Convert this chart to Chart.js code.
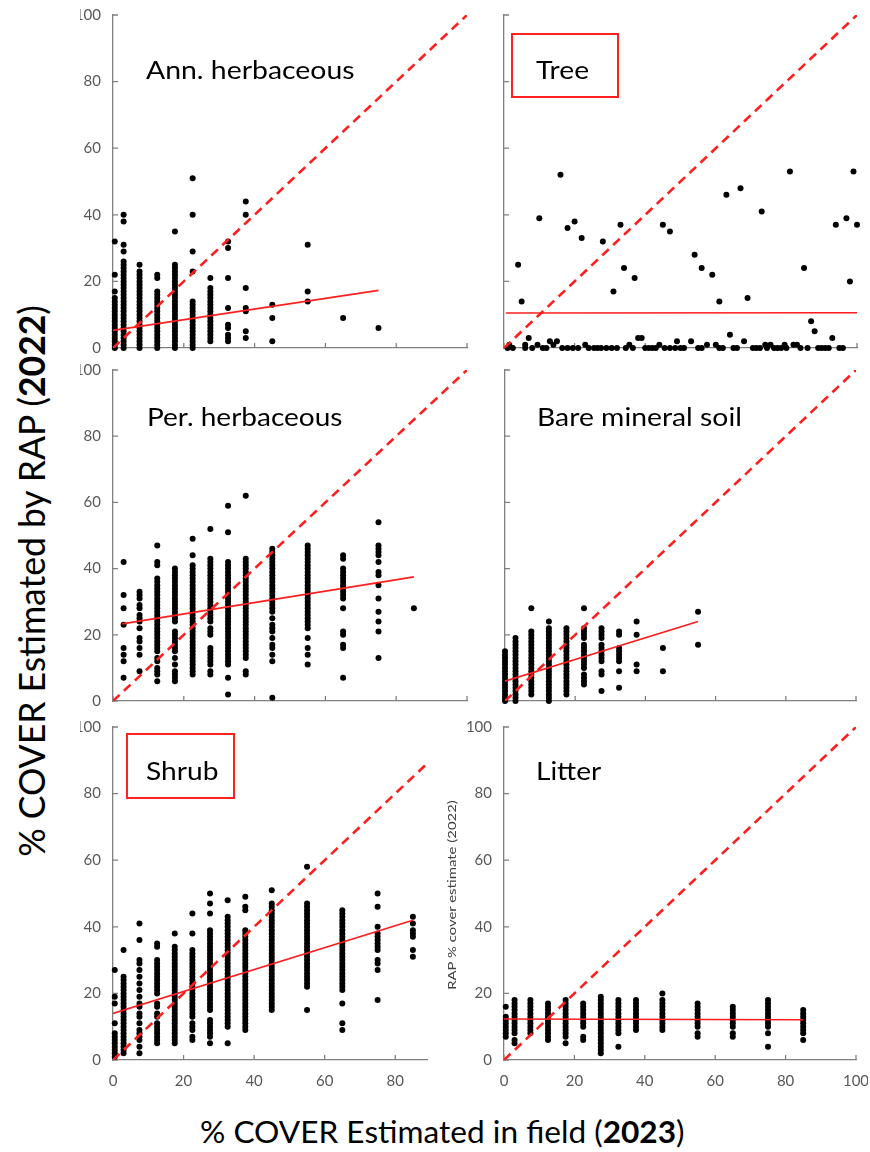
<!DOCTYPE html>
<html>
<head>
<meta charset="utf-8">
<script src="https://cdn.jsdelivr.net/npm/chart.js@4.4.1/dist/chart.umd.min.js"></script>
<style>
  body { margin: 0; width: 870px; height: 1152px; background: #fff; position: relative; overflow: hidden; font-family: Lato, sans-serif; }
  canvas { position: absolute; }
  .t { position: absolute; white-space: nowrap; line-height: 1; color: #000; transform-origin: 0 0; }
  .rot { transform-origin: 50% 50%; }
  .box { position: absolute; border: 2px solid #ff2020; box-sizing: border-box; }
</style>
</head>
<body>
<canvas id="ann"></canvas>
<canvas id="tree"></canvas>
<canvas id="per"></canvas>
<canvas id="bare"></canvas>
<canvas id="shrub"></canvas>
<canvas id="litter"></canvas>

<div class="box" style="left:511px;top:33px;width:108px;height:65px"></div>
<div class="box" style="left:126px;top:733px;width:109px;height:66px"></div>

<div class="t fit" data-w="209" style="left:146px;top:57px;font-size:25px">Ann. herbaceous</div>
<div class="t fit" data-w="53" style="left:536px;top:57px;font-size:25px">Tree</div>
<div class="t fit" data-w="196" style="left:147px;top:404px;font-size:25px">Per. herbaceous</div>
<div class="t fit" data-w="205" style="left:537px;top:404px;font-size:25px">Bare mineral soil</div>
<div class="t fit" data-w="72" style="left:146px;top:758px;font-size:25px">Shrub</div>
<div class="t fit" data-w="65" style="left:536px;top:758px;font-size:25px">Litter</div>

<div class="t fit" data-w="485" style="left:200px;top:1116px;font-size:30px">% COVER Estimated in field (<b>2023</b>)</div>
<div class="t fit rot" data-w="552" data-rot="1" style="left:31px;top:581px;font-size:36px">% COVER Estimated by RAP (<b>2022</b>)</div>
<div class="t fit rot" data-w="190" data-rot="1" style="left:452px;top:895px;font-size:12px;color:#404040">RAP % cover estimate (2022)</div>

<script>
// cover classes (field estimate, %) and RAP values read per column
const annX = [0.5, 3, 7.5, 12.5, 17.5, 22.5, 27.5, 32.5, 37.5, 45, 55, 65, 75];
const annY = [
  [0,1,2,3,4,5,6,7,8,9,10,11,12,13,14,15,17,22,32],
  [0,1,2,3,4,5,6,7,8,9,10,11,12,13,14,15,16,17,18,19,20,21,22,23,24,25,26,29,31,38,40],
  [0,1,2,3,4,5,6,7,8,9,10,11,12,13,14,15,16,17,18,19,20,21,22,23,25],
  [0,1,2,3,4,5,6,7,8,9,10,11,12,13,14,15,16,17,21,22],
  [0,1,2,3,4,5,6,7,8,9,10,11,12,13,14,15,16,17,18,19,20,21,22,23,24,25,35],
  [0,1,2,3,4,5,6,7,8,9,10,11,12,13,14,23,29,40,51],
  [2,3,4,5,6,7,8,9,10,11,12,13,14,15,16,17,18,21],
  [2,3,4,6,7,12,21,30,32],
  [3,5,11,12,18,40,44],
  [2,9,13],
  [14,17,31],
  [9],
  [6]
];
const annFitX = [0, 75];
const annFitY = [5.3, 17.3];

const treeXY = [
  [4,25],[5,14],[10,39],[16,52],[18,36],[20,38],[22,33],[28,32],[31,17],[33,37],[34,24],[37,21],
  [45,37],[47,35],[54,28],[56,24],[59,22],[61,14],[63,46],[64,4],[67,48],[69,15],[73,41],[81,53],
  [85,24],[87,8],[88,5],[94,37],[97,39],[98,20],[99,53],[100,37],
  [6,1],[7,3],[13,2],[15,2],[38,3],[39,3],[49,2],[53,2],[60,1],[68,2],[74,1],[82,1],[93,3],
  [1,0],[1.5,1],[2.5,0],[6,0],[8,0],[9.5,1],[11,0],[12,0],[14,1],[16.5,0],[18,0],[19.5,0],[21,0],
  [23,1],[24,0],[25.5,0],[26.5,0],[27.5,0],[29,0],[30.5,0],[32,0],[34.5,0],[35.5,1],[36.5,0],
  [40,0],[41,0],[42,0],[43,0],[44,1],[45.5,0],[47,0],[48.5,0],[50,0],[51,0],[55,0],[56,0],
  [57.5,1],[61,0],[62,0],[65,0],[66,0],[70.5,0],[71.5,0],[72.5,0],[74.5,0],[75.5,1],[76.5,0],
  [77.5,0],[78.5,0],[79.5,1],[80,0],[83,1],[84,0],[86,0],[89,0],[90,0],[91,0],[92,0],[95,0],[96,0]
];
const treeFitX = [0.5, 100];
const treeFitY = [10.5, 10.6];

const perX = [3, 7.5, 12.5, 17.5, 22.5, 27.5, 32.5, 37.5, 45, 55, 65, 75, 85];
const perY = [
  [7,12,14,16,23,28,32,42],
  [9,14,16,18,19,22,24,25,26,28,29,31,32,33],
  [6,8,9,10,12,13,15,16,17,18,19,20,21,22,23,24,25,26,27,28,29,30,31,32,33,34,35,36,37,41,42,47],
  [6,7,8,9,11,13,15,16,17,18,19,20,21,24,25,26,27,28,29,30,31,32,33,34,35,36,37,38,39,40],
  [8,9,10,11,12,13,14,15,16,17,18,19,20,21,22,23,24,25,26,27,28,29,30,31,32,33,34,35,36,37,38,39,40,41,44,49],
  [8,9,11,12,13,14,15,16,20,21,22,24,25,26,27,28,29,30,31,32,33,34,35,36,37,38,39,40,41,42,43,52],
  [2,7,11,12,13,14,15,16,17,18,19,20,21,22,23,24,25,26,27,28,29,30,31,32,33,34,35,36,37,38,39,40,41,42,51,59],
  [8,9,13,14,15,16,17,18,19,20,21,22,23,24,25,26,27,28,29,30,31,32,33,34,35,36,37,38,39,40,41,42,43,62],
  [1,12,14,16,17,19,21,22,23,25,27,28,29,30,31,32,33,34,35,36,37,38,39,40,41,42,43,44,45,46],
  [11,14,16,19,22,23,24,25,26,27,28,29,30,31,32,33,34,35,36,37,38,39,40,41,42,43,44,45,46,47],
  [7,16,17,20,21,28,31,32,33,34,35,36,37,38,39,40,43,44],
  [13,21,24,27,31,35,38,39,42,44,45,46,47,54],
  [28]
];
const perFitX = [2.6, 85];
const perFitY = [23.3, 37.5];

const bareX = [0, 3, 7.5, 12.5, 17.5, 22.5, 27.5, 32.5, 37.5, 45, 55];
const bareY = [
  [0,1,2,3,4,5,6,7,8,9,10,11,12,13,14,15],
  [0,1,2,3,4,5,6,7,8,9,10,11,12,13,14,15,16,17,18,19],
  [2,3,4,5,6,7,8,9,10,11,12,13,14,15,16,17,18,19,20,21,28],
  [0,1,2,3,4,5,6,7,8,9,10,11,12,13,14,15,16,17,18,19,20,21,22,24],
  [2,3,4,5,6,7,8,9,10,11,12,13,14,15,16,17,18,19,20,21,22],
  [5,6,7,8,10,11,12,13,14,15,16,17,19,20,21,22,28],
  [3,8,9,12,13,14,15,16,17,19,20,21,22],
  [4,9,12,13,14,15,16,20,21],
  [9,11,20,24],
  [9,16],
  [17,27]
];
const bareFitX = [0, 55];
const bareFitY = [6, 24];

const shrubX = [0.5, 3, 7.5, 12.5, 17.5, 22.5, 27.5, 32.5, 37.5, 45, 55, 65, 75, 85];
const shrubY = [
  [1,2,3,4,5,6,7,8,11,17,19,27],
  [2,3,4,5,6,7,8,9,10,11,12,13,14,15,16,17,18,19,20,21,22,23,24,25,33],
  [2,4,6,7,8,9,11,13,14,16,17,19,21,23,25,27,29,30,36,41],
  [5,6,7,8,9,10,11,13,14,16,17,20,21,22,23,24,25,26,27,28,29,30,34,35],
  [5,6,7,8,9,10,11,12,13,14,15,16,17,18,19,20,21,22,23,24,25,26,27,28,29,30,31,32,33,34,38],
  [6,7,9,10,11,13,14,15,16,17,18,19,20,21,22,23,24,25,26,27,28,29,30,31,32,33,38,44],
  [5,7,8,9,10,11,12,15,16,17,18,19,20,21,22,23,24,25,26,27,28,29,30,31,32,33,34,35,36,37,38,39,44,47,50],
  [5,10,11,12,13,14,15,16,17,18,19,20,21,22,23,24,25,26,27,28,29,30,31,32,33,34,35,36,37,38,39,40,41,42,43,48],
  [9,10,11,12,13,14,15,16,17,18,19,20,21,22,23,24,25,26,27,28,29,30,31,32,33,34,35,36,37,38,39,45,46,49],
  [15,16,17,18,19,20,21,22,23,24,25,26,27,28,29,30,31,32,33,34,35,36,37,38,39,40,41,42,43,44,45,46,47,51],
  [15,22,23,24,25,26,27,28,29,30,31,32,33,34,35,36,37,38,39,40,41,42,43,44,45,46,47,58],
  [9,11,17,21,22,23,24,25,26,27,28,29,30,31,32,33,34,35,36,37,38,39,40,41,42,43,44,45],
  [18,27,29,30,33,34,35,36,37,38,40,46,50],
  [31,33,37,38,39,41,43]
];
const shrubFitX = [0, 85];
const shrubFitY = [14, 42];

const litX = [0.5, 3, 7.5, 12.5, 17.5, 22.5, 27.5, 32.5, 37.5, 45, 55, 65, 75, 85];
const litY = [
  [7,8,9,10,11,12,13,16],
  [5,6,8,9,10,11,12,13,14,15,16,17,18],
  [8,9,10,11,12,13,14,15,16,17,18],
  [6,7,8,9,10,11,12,13,14,15,16,17],
  [5,7,8,9,10,11,12,13,14,15,16,17,18],
  [6,7,10,11,12,13,14,15,16,17],
  [2,3,4,5,6,7,8,9,10,11,12,13,14,15,16,17,18,19],
  [4,8,9,10,11,12,13,14,15,16,17,18],
  [9,10,11,12,13,14,15,16,17,18],
  [9,10,11,12,13,14,15,16,17,18,20],
  [7,8,10,11,12,13,14,15,16,17],
  [7,8,10,11,12,13,14,15,16],
  [4,8,10,11,12,13,14,15,16,17,18],
  [6,8,9,10,11,12,13,14,15]
];
const litFitX = [0, 85];
const litFitY = [12.3, 12.1];

const red = 'rgb(255,30,30)';
const axisGrey = '#808080';
const tickFont = { family: 'Lato', size: 15 };

function cols(xs, ys) {
  const out = [];
  xs.forEach((x, i) => ys[i].forEach(y => out.push({ x, y })));
  return out;
}

// short tick marks pointing into the plot
const inTicks = {
  id: 'inTicks',
  beforeDatasetsDraw(chart) {
    const { ctx, chartArea: a, scales: { x, y } } = chart;
    ctx.save();
    ctx.strokeStyle = axisGrey;
    ctx.lineWidth = 1.3;
    ctx.beginPath();
    x.ticks.forEach((t, i) => {
      const px = x.getPixelForTick(i);
      ctx.moveTo(px, a.bottom); ctx.lineTo(px, a.bottom - 5);
    });
    y.ticks.forEach((t, i) => {
      const py = y.getPixelForTick(i);
      ctx.moveTo(a.left, py); ctx.lineTo(a.left + 5, py);
    });
    ctx.stroke();
    ctx.restore();
  }
};

function panel(id, g, pts, fitX, fitY, xMax, showX, showY) {
  const cv = document.getElementById(id);
  cv.width = g.R - g.L + g.yW + 12;
  cv.height = g.B - g.T + 10 + 30;
  cv.style.left = (g.L - g.yW) + 'px';
  cv.style.top = (g.T - 10) + 'px';
  new Chart(cv, {
    type: 'scatter',
    data: {
      datasets: [
        { data: [{ x: 0, y: 0 }, { x: xMax, y: xMax }], showLine: true, borderColor: red,
          borderWidth: 2.6, borderDash: [9, 6], pointRadius: 0, order: 0 },
        { data: fitX.map((x, i) => ({ x, y: fitY[i] })), showLine: true, borderColor: red,
          borderWidth: 1.6, pointRadius: 0, order: 0 },
        { data: pts, pointRadius: 3, backgroundColor: '#000', borderWidth: 0, order: 1, clip: false }
      ]
    },
    options: {
      responsive: false,
      animation: false,
      devicePixelRatio: 1,
      layout: { padding: { top: 10, right: 12, left: 0, bottom: 0 } },
      plugins: { legend: { display: false }, tooltip: { enabled: false } },
      scales: {
        x: {
          type: 'linear', min: 0, max: xMax,
          grid: { display: false, drawTicks: false },
          border: { color: axisGrey, width: 1.3 },
          ticks: { display: showX, stepSize: 20, includeBounds: false, padding: 12, color: '#595959', font: tickFont },
          afterFit: s => { s.height = 30; s.paddingLeft = 0; s.paddingRight = 0; }
        },
        y: {
          type: 'linear', min: 0, max: 100,
          grid: { display: false, drawTicks: false },
          border: { color: axisGrey, width: 1.3 },
          ticks: { display: showY, stepSize: 20, padding: 12, color: '#595959', font: tickFont },
          afterFit: s => { s.width = g.yW; s.paddingTop = 0; s.paddingBottom = 0; }
        }
      }
    },
    plugins: [inTicks]
  });
}

panel('ann',    { L: 113, R: 467, T: 15,  B: 348,  yW: 33 }, cols(annX, annY),   annFitX,   annFitY,   100, false, true);
panel('tree',   { L: 504, R: 857, T: 15,  B: 348,  yW: 33 }, treeXY.map(p => ({ x: p[0], y: p[1] })), treeFitX, treeFitY, 100, false, false);
panel('per',    { L: 113, R: 467, T: 370, B: 701,  yW: 33 }, cols(perX, perY),   perFitX,   perFitY,   100, false, true);
panel('bare',   { L: 505, R: 856, T: 370, B: 701,  yW: 33 }, cols(bareX, bareY), bareFitX,  bareFitY,  100, false, false);
panel('shrub',  { L: 113, R: 427, T: 727, B: 1060, yW: 33 }, cols(shrubX, shrubY), shrubFitX, shrubFitY, 89, true, true);
panel('litter', { L: 504, R: 856, T: 727, B: 1060, yW: 45 }, cols(litX, litY),   litFitX,   litFitY,   100, true, true);

// stretch text labels to the widths they have in the figure
document.querySelectorAll('.fit').forEach(el => {
  const s = +el.dataset.w / el.offsetWidth;
  el.style.transform = (el.dataset.rot ? 'translate(-50%,-50%) rotate(-90deg) ' : '') + 'scaleX(' + s.toFixed(3) + ')';
});
</script>
</body>
</html>
